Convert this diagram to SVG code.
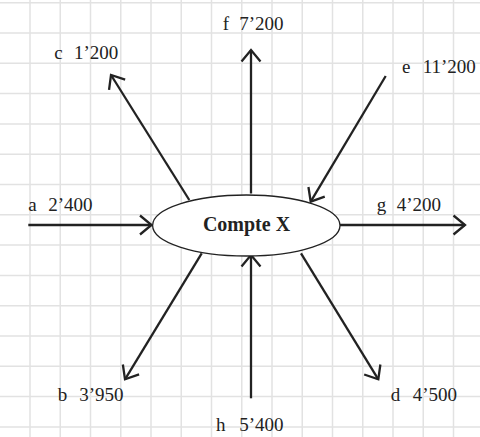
<svg xmlns="http://www.w3.org/2000/svg" width="480" height="437" viewBox="0 0 480 437">
<style>
.grid line{stroke:#e2e2e2;stroke-width:1.5}
.conn line{stroke:#222;stroke-width:2.3;fill:none}
.lbl{font-family:"Liberation Serif","DejaVu Serif",serif;font-size:19px;fill:#222}
.node ellipse{fill:#fff;stroke:#222;stroke-width:1.3}
.node text{font-family:"Liberation Serif","DejaVu Serif",serif;font-size:20px;font-weight:bold;fill:#222}
</style>
<defs>
<marker id="ah" markerUnits="userSpaceOnUse" viewBox="-15 -13 18 26" markerWidth="18" markerHeight="26" refX="0" refY="0" orient="auto">
<path d="M-11.5,-9.5 L0,0 L-11.5,9.5" fill="none" stroke="#222" stroke-width="2.3"/>
</marker>
</defs>
<rect width="480" height="437" fill="#fff"/>
<g class="grid">
<line x1="30" y1="0" x2="30" y2="437"/>
<line x1="60.25" y1="0" x2="60.25" y2="437"/>
<line x1="90.5" y1="0" x2="90.5" y2="437"/>
<line x1="120.75" y1="0" x2="120.75" y2="437"/>
<line x1="151" y1="0" x2="151" y2="437"/>
<line x1="181.25" y1="0" x2="181.25" y2="437"/>
<line x1="211.5" y1="0" x2="211.5" y2="437"/>
<line x1="241.75" y1="0" x2="241.75" y2="437"/>
<line x1="272" y1="0" x2="272" y2="437"/>
<line x1="302.25" y1="0" x2="302.25" y2="437"/>
<line x1="332.5" y1="0" x2="332.5" y2="437"/>
<line x1="362.75" y1="0" x2="362.75" y2="437"/>
<line x1="393" y1="0" x2="393" y2="437"/>
<line x1="423.25" y1="0" x2="423.25" y2="437"/>
<line x1="453.5" y1="0" x2="453.5" y2="437"/>
<line x1="0" y1="2.7" x2="480" y2="2.7"/>
<line x1="0" y1="33" x2="480" y2="33"/>
<line x1="0" y1="63.3" x2="480" y2="63.3"/>
<line x1="0" y1="93.6" x2="480" y2="93.6"/>
<line x1="0" y1="123.9" x2="480" y2="123.9"/>
<line x1="0" y1="154.2" x2="480" y2="154.2"/>
<line x1="0" y1="184.5" x2="480" y2="184.5"/>
<line x1="0" y1="214.8" x2="480" y2="214.8"/>
<line x1="0" y1="245.1" x2="480" y2="245.1"/>
<line x1="0" y1="275.4" x2="480" y2="275.4"/>
<line x1="0" y1="305.7" x2="480" y2="305.7"/>
<line x1="0" y1="336" x2="480" y2="336"/>
<line x1="0" y1="366.3" x2="480" y2="366.3"/>
<line x1="0" y1="396.6" x2="480" y2="396.6"/>
<line x1="0" y1="426.9" x2="480" y2="426.9"/>
</g>
<g class="conn" id="connectors">
<line x1="28.3" y1="225" x2="151.5" y2="225" marker-end="url(#ah)"/>
<line x1="189.3" y1="200" x2="111" y2="75" marker-end="url(#ah)"/>
<line x1="251" y1="193.5" x2="251" y2="50" marker-end="url(#ah)"/>
<line x1="385.7" y1="76" x2="310.7" y2="201.7" marker-end="url(#ah)"/>
<line x1="340" y1="225" x2="465" y2="225" marker-end="url(#ah)"/>
<line x1="201.7" y1="253.3" x2="125" y2="379.3" marker-end="url(#ah)"/>
<line x1="251" y1="398.3" x2="251" y2="255" marker-end="url(#ah)"/>
<line x1="301" y1="253.3" x2="378.3" y2="379.3" marker-end="url(#ah)"/>
</g>
<g class="node" id="compteX">
<ellipse cx="246.3" cy="225.5" rx="93.7" ry="30.5"/>
<text x="246.5" y="230.5" text-anchor="middle">Compte X</text>
</g>
<g id="labels">
<text class="lbl" x="222.7" y="29.5">f<tspan x="239.3">7’200</tspan></text>
<text class="lbl" x="54.3" y="59.3">c<tspan x="74">1’200</tspan></text>
<text class="lbl" x="402" y="72.7">e<tspan x="422.7">11’200</tspan></text>
<text class="lbl" x="28.3" y="210.7">a<tspan x="48.3">2’400</tspan></text>
<text class="lbl" x="376.7" y="211">g<tspan x="396.7">4’200</tspan></text>
<text class="lbl" x="57.7" y="401">b<tspan x="79.3">3’950</tspan></text>
<text class="lbl" x="390.7" y="400.7">d<tspan x="412.7">4’500</tspan></text>
<text class="lbl" x="216" y="430.5">h<tspan x="239.3">5’400</tspan></text>
</g>
</svg>
